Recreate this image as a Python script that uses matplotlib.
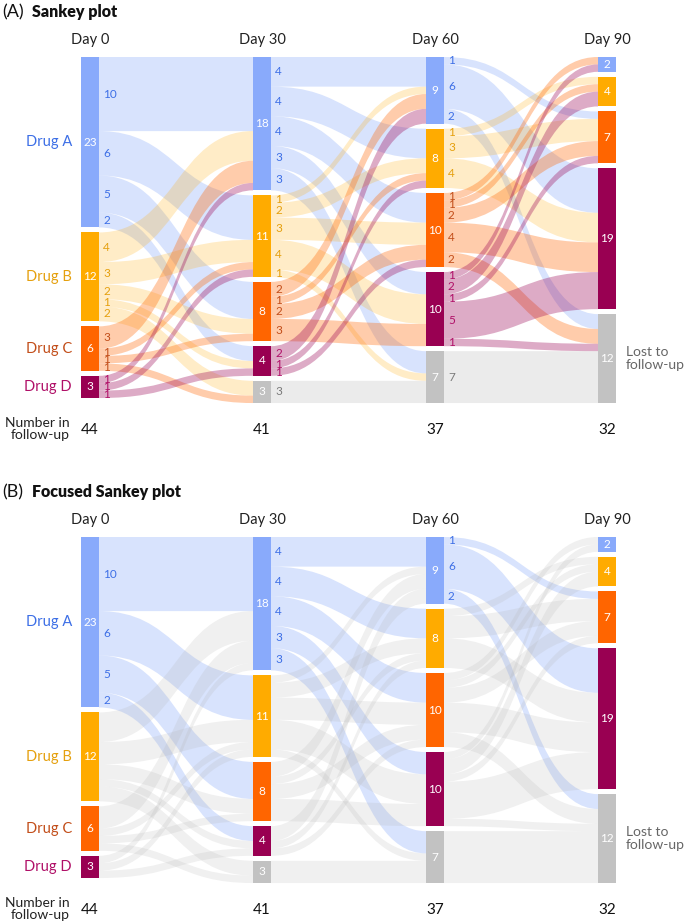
import numpy as np
import matplotlib.pyplot as plt
from matplotlib.path import Path
from matplotlib.patches import PathPatch, Rectangle

plt.rcParams['font.family'] = ['Lato', 'DejaVu Sans']

# data
stages = ["Day 0", "Day 30", "Day 60", "Day 90"]
groups = ["Drug A", "Drug B", "Drug C", "Drug D", "Lost"]
counts = [
    [23, 12, 6, 3, 0],
    [18, 11, 8, 4, 3],
    [9, 8, 10, 10, 7],
    [2, 4, 7, 19, 12],
]
# rows = source group, cols = target group
flow_0_30 = [[10, 6, 5, 2, 0],
             [4, 3, 2, 1, 2],
             [3, 1, 1, 0, 1],
             [1, 1, 0, 1, 0],
             [0, 0, 0, 0, 0]]
flow_30_60 = [[4, 4, 4, 3, 3],
              [1, 2, 3, 4, 1],
              [2, 1, 2, 3, 0],
              [2, 1, 1, 0, 0],
              [0, 0, 0, 0, 3]]
flow_60_90 = [[0, 0, 1, 6, 2],
              [0, 1, 3, 4, 0],
              [1, 1, 2, 4, 2],
              [1, 2, 1, 5, 1],
              [0, 0, 0, 0, 7]]
flows = [flow_0_30, flow_30_60, flow_60_90]

# styling
node_col = ['#89AAFB', '#FFAB00', '#FF6500', '#990052', '#C2C2C2']
flow_alpha = [0.33, 0.22, 0.33, 0.33, 0.32]
text_col = ['#3D6FE6', '#E5A00E', '#C24E1A', '#B01068', '#7A7A7A']
node_x = [81, 253, 426, 598]
W = 18
U = 7.41
GAP = 5


def node_tops(y0):
    tops = []
    for c in counts:
        y = y0
        t = []
        for v in c:
            t.append(y)
            if v > 0:
                y += v * U + GAP
        tops.append(t)
    return tops


def band(ax, x0, x1, a0, a1, b0, b1, fc, alpha):
    xm = (x0 + x1) / 2
    verts = [(x0, a0), (xm, a0), (xm, b0), (x1, b0),
             (x1, b1), (xm, b1), (xm, a1), (x0, a1), (x0, a0)]
    codes = [Path.MOVETO, Path.CURVE4, Path.CURVE4, Path.CURVE4,
             Path.LINETO, Path.CURVE4, Path.CURVE4, Path.CURVE4, Path.CLOSEPOLY]
    ax.add_patch(PathPatch(Path(verts, codes), fc=fc, ec='none', alpha=alpha, lw=0))


def panel(ax, ytop, letter, title, focused):
    ax.text(2, ytop - 45, "(" + letter + ")", fontsize=13, va='center', ha='left', color='#111')
    ax.text(32, ytop - 45, title, fontsize=11.5, fontweight='heavy', va='center', ha='left', color='#111')
    tops = node_tops(ytop)

    for k, F in enumerate(flows):
        out_off = list(tops[k])
        in_off = list(tops[k + 1])
        xa = node_x[k] + W
        xb = node_x[k + 1]
        for i in range(5):
            for j in range(5):
                v = F[i][j]
                if v == 0:
                    continue
                h = v * U
                a0 = out_off[i]; out_off[i] += h
                b0 = in_off[j]; in_off[j] += h
                if focused and i != 0:
                    fc, al = '#B4B4B4', 0.2
                else:
                    fc, al = node_col[i], flow_alpha[i]
                band(ax, xa, xb, a0, a0 + h, b0, b0 + h, fc, al)
                if not focused or i == 0:
                    ax.text(xa + 4, a0 + h / 2, str(v), fontsize=8.5, color=text_col[i],
                            va='center', ha='left')

    for k, c in enumerate(counts):
        for i, v in enumerate(c):
            if v == 0:
                continue
            y = tops[k][i]
            ax.add_patch(Rectangle((node_x[k], y), W, v * U, fc=node_col[i], ec='none'))
            ax.text(node_x[k] + W / 2, y + v * U / 2, str(v), color='white', fontsize=8.5,
                    ha='center', va='center')
        ax.text(node_x[k] + W / 2, ytop - 17, stages[k], fontsize=10.5, ha='center',
                va='center', color='#222')
        n_follow = sum(c[:4])
        ax.text(node_x[k] + W / 2, ytop + 373, str(n_follow), fontsize=11, ha='center',
                va='center', color='#111')

    for i in range(4):
        v = counts[0][i]
        ax.text(72, tops[0][i] + v * U / 2, groups[i], fontsize=10.5, color=text_col[i],
                ha='right', va='center')
    ax.text(70, ytop + 372, "Number in\nfollow-up", fontsize=10, ha='right', va='center',
            color='#222', linespacing=1.05)
    lost = counts[3][4]
    ax.text(626, tops[3][4] + lost * U / 2, "Lost to\nfollow-up", fontsize=10, ha='left',
            va='center', color='#666', linespacing=1.1)


fig = plt.figure(figsize=(6.86, 9.23), dpi=100)
ax = fig.add_axes([0, 0, 1, 1])
ax.set_xlim(0, 686)
ax.set_ylim(923, 0)
ax.axis('off')

panel(ax, 57, "A", "Sankey plot", False)
panel(ax, 537, "B", "Focused Sankey plot", True)

fig.savefig("out.png", dpi=100)
